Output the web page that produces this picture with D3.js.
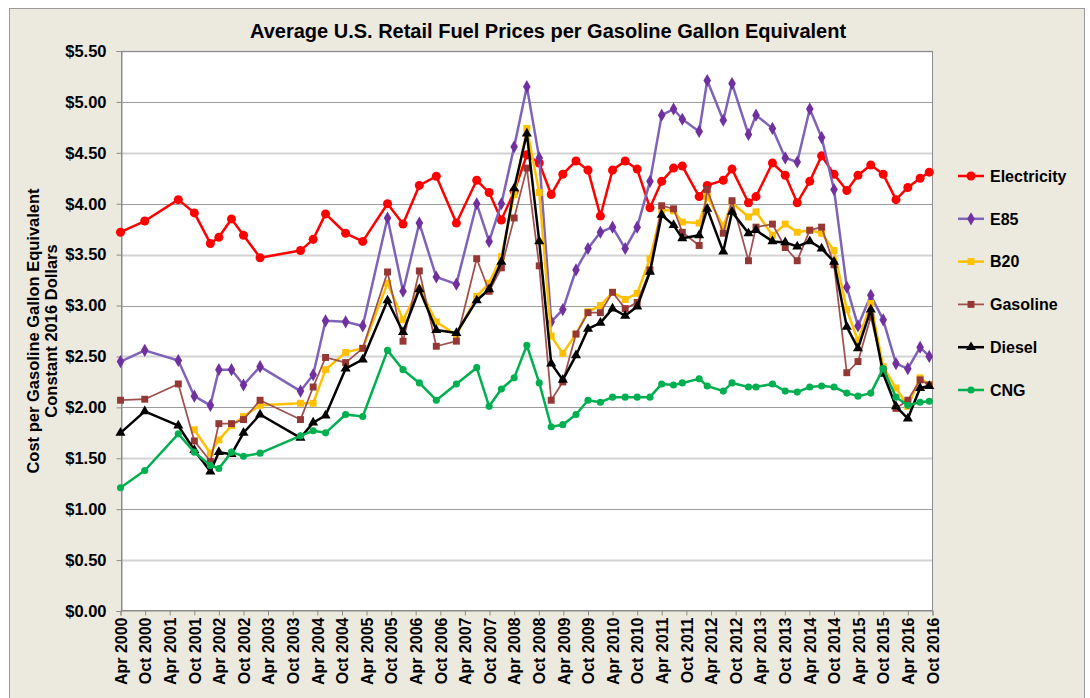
<!DOCTYPE html>
<html>
<head>
<meta charset="utf-8">
<script src="https://cdn.jsdelivr.net/npm/d3@7/dist/d3.min.js"></script>
<style>
  body { margin: 0; background: #ffffff; }
  text { font-family: 'Liberation Sans', Arial, sans-serif; font-weight: bold; }
</style>
</head>
<body>
<script>
var width = 1090;
var height = 698;

// Survey dates (one point per report).
var dates = ['2000-04-01','2000-09-28','2001-06-04','2001-10-01','2002-01-28','2002-04-01','2002-07-04','2002-10-01','2003-02-01','2003-11-28',
  '2004-03-01','2004-06-01','2004-10-28','2005-03-04','2005-09-04','2005-12-28','2006-04-28','2006-09-01','2007-01-28','2007-06-28',
  '2007-09-28','2007-12-28','2008-04-01','2008-07-04','2008-10-04','2009-01-01','2009-03-28','2009-07-04','2009-10-01','2010-01-01',
  '2010-04-01','2010-07-04','2010-10-01','2011-01-04','2011-04-01','2011-06-28','2011-09-01','2012-01-04','2012-03-04','2012-07-01',
  '2012-09-04','2013-01-04','2013-03-01','2013-07-01','2013-10-04','2014-01-01','2014-04-04','2014-07-01','2014-10-01','2015-01-04',
  '2015-03-28','2015-07-01','2015-10-01','2016-01-04','2016-04-01','2016-07-01','2016-09-07'];

// Prices, $ per gasoline gallon equivalent (constant 2016 dollars).
var electricity = [3.72,3.83,4.04,3.91,3.61,3.67,3.85,3.69,3.47,3.54, 3.65,3.90,3.71,3.63,4.00,3.80,4.18,4.27,3.81,4.23,
  4.11,3.84,4.12,4.48,4.40,4.09,4.29,4.42,4.33,3.88, 4.33,4.42,4.34,3.96,4.22,4.35,4.37,4.07,4.18,4.23,
  4.34,4.01,4.07,4.40,4.28,4.01,4.22,4.47,4.29,4.13, 4.28,4.38,4.29,4.04,4.16,4.25,4.31];
var e85 = [2.45,2.56,2.46,2.11,2.02,2.37,2.37,2.22,2.40,2.16, 2.32,2.85,2.84,2.80,3.86,3.14,3.81,3.28,3.21,4.00,
  3.63,4.00,4.56,5.15,4.45,2.84,2.96,3.35,3.56,3.72, 3.77,3.56,3.77,4.22,4.87,4.93,4.83,4.71,5.21,4.82,
  5.18,4.68,4.87,4.74,4.45,4.41,4.93,4.65,4.14,3.18, 2.80,3.10,2.86,2.43,2.38,2.59,2.50];
var b20 = [null,null,null,1.78,1.55,1.68,1.82,1.91,2.02,2.04, 2.04,2.37,2.54,2.58,3.22,2.86,3.17,2.84,2.71,3.09,
  3.22,3.48,4.09,4.74,4.11,2.70,2.53,2.72,2.94,3.00, 3.13,3.06,3.12,3.46,3.94,3.93,3.82,3.81,4.07,3.78,
  4.01,3.87,3.92,3.69,3.80,3.72,3.74,3.71,3.54,2.96, 2.65,3.02,2.40,2.19,2.01,2.29,2.22];
var gasoline = [2.07,2.08,2.23,1.67,1.47,1.84,1.84,1.88,2.07,1.88, 2.20,2.49,2.44,2.58,3.33,2.65,3.34,2.60,2.65,3.46,
  3.14,3.37,3.86,4.35,3.39,2.07,2.25,2.72,2.93,2.93, 3.13,2.97,3.03,3.35,3.98,3.95,3.72,3.59,4.14,3.71,
  4.03,3.44,3.77,3.80,3.57,3.44,3.74,3.77,3.40,2.34, 2.45,2.89,2.37,1.99,2.07,2.27,2.22];
var diesel = [1.75,1.96,1.82,1.58,1.37,1.56,1.54,1.75,1.93,1.70, 1.85,1.92,2.38,2.47,3.05,2.74,3.16,2.76,2.73,3.05,
  3.16,3.43,4.15,4.69,3.63,2.43,2.27,2.51,2.77,2.83, 2.97,2.90,2.99,3.33,3.89,3.79,3.66,3.69,3.95,3.53,
  3.92,3.71,3.74,3.63,3.62,3.58,3.63,3.56,3.43,2.79, 2.58,2.96,2.33,2.01,1.89,2.19,2.21];
var cng = [1.21,1.38,1.74,1.56,1.43,1.40,1.56,1.52,1.55,1.72, 1.77,1.75,1.93,1.91,2.56,2.37,2.24,2.07,2.23,2.39,
  2.01,2.18,2.29,2.61,2.24,1.81,1.83,1.93,2.07,2.05, 2.10,2.10,2.10,2.10,2.23,2.22,2.24,2.28,2.21,2.16,
  2.24,2.20,2.20,2.23,2.16,2.15,2.20,2.21,2.20,2.14, 2.11,2.14,2.38,2.10,2.02,2.05,2.06];

var seriesNames = ['Electricity', 'E85', 'B20', 'Gasoline', 'Diesel', 'CNG'];
var yTicks = [0, 0.5, 1, 1.5, 2, 2.5, 3, 3.5, 4, 4.5, 5, 5.5];
var firstTick = '2000-04-01';
var tickCount = 34; // Apr 2000 .. Oct 2016, every 6 months

// Styles per series.
var styles = {
  'Electricity': {line: '#ff0000', fill: '#ff0000', symbol: d3.symbolCircle, size: 64, w: 2.5},
  'E85':         {line: '#7f63b8', fill: '#7030a0', symbol: d3.symbolDiamond, size: 50, w: 2.5},
  'B20':         {line: '#ffc000', fill: '#ffc000', symbol: d3.symbolSquare, size: 48, w: 2.5},
  'Gasoline':    {line: '#a0504d', fill: '#953735', symbol: d3.symbolSquare, size: 48, w: 1.75},
  'Diesel':      {line: '#000000', fill: '#000000', symbol: d3.symbolTriangle, size: 44, w: 2.5},
  'CNG':         {line: '#00b050', fill: '#00b050', symbol: d3.symbolCircle, size: 40, w: 2.5}
};

var parse = d3.timeParse('%Y-%m-%d');
var values = [electricity, e85, b20, gasoline, diesel, cng];
var series = seriesNames.map(function(name, i) {
  return {
    name: name,
    points: dates.map(function(d, j) { return {date: parse(d), value: values[i][j]}; })
      .filter(function(p) { return p.value !== null; })
  };
});

var plot = {left: 121, right: 933, top: 51, bottom: 611};

var xTicks = d3.range(tickCount).map(function(i) { return d3.timeMonth.offset(parse(firstTick), 6 * i); });

var x = d3.scaleTime()
  .domain([xTicks[0], xTicks[xTicks.length - 1]])
  .range([plot.left - 0.5, plot.right - 0.5]);
var y = d3.scaleLinear()
  .domain([0, 5.5])
  .range([plot.bottom, plot.top]);

var svg = d3.select('body')
  .append('svg')
  .attr('width', width)
  .attr('height', height);

// Chart frame.
svg.append('rect')
  .attr('x', 9.5).attr('y', 8.5)
  .attr('width', 1075).attr('height', 700)
  .attr('fill', '#ece9df')
  .attr('stroke', '#9a9a9a');

svg.append('rect')
  .attr('x', plot.left).attr('y', plot.top)
  .attr('width', plot.right - plot.left).attr('height', plot.bottom - plot.top)
  .attr('fill', '#ffffff');

// Gridlines: whole dollars darker, half dollars lighter.
svg.append('g')
  .selectAll('line')
  .data(yTicks.slice(1))
  .enter().append('line')
  .attr('x1', plot.left).attr('x2', plot.right)
  .attr('y1', function(d) { return Math.round(y(d)) + 0.5; })
  .attr('y2', function(d) { return Math.round(y(d)) + 0.5; })
  .attr('stroke', function(d) { return d % 1 === 0 ? '#9c9c9c' : '#d3d3d3'; })
  .attr('stroke-width', function(d) { return d % 1 === 0 ? 1 : 2; });

// Plot border.
svg.append('rect')
  .attr('x', plot.left + 0.5).attr('y', plot.top + 0.5)
  .attr('width', plot.right - plot.left - 1).attr('height', plot.bottom - plot.top - 1)
  .attr('fill', 'none')
  .attr('stroke', '#8c8c8c');

// Y axis.
var yAxis = svg.append('g')
  .attr('transform', 'translate(' + (plot.left + 0.5) + ',0)')
  .call(d3.axisLeft(y).tickValues(yTicks).tickSize(5).tickFormat(d3.format('$.2f')));
yAxis.select('.domain').attr('stroke', '#8c8c8c');
yAxis.selectAll('.tick line').attr('stroke', '#8c8c8c');
yAxis.selectAll('.tick text')
  .attr('x', -15)
  .attr('fill', '#000')
  .style('font-size', '16.5px')
  .style('font-family', "'Liberation Sans', Arial, sans-serif")
  .style('font-weight', 'bold');

// X axis: every six months from Apr 2000.
var xAxis = svg.append('g')
  .attr('transform', 'translate(0,' + (plot.bottom - 0.5) + ')')
  .call(d3.axisBottom(x).tickValues(xTicks).tickSize(5).tickFormat(d3.timeFormat('%b %Y')));
xAxis.select('.domain').attr('stroke', '#8c8c8c');
xAxis.selectAll('.tick line').attr('stroke', '#8c8c8c');
xAxis.selectAll('.tick text')
  .attr('transform', 'rotate(-90)')
  .attr('text-anchor', 'end')
  .attr('x', -7)
  .attr('y', 0)
  .attr('dy', '0.36em')
  .attr('fill', '#000')
  .style('font-size', '16px')
  .style('font-family', "'Liberation Sans', Arial, sans-serif")
  .style('font-weight', 'bold');

// Title.
svg.append('text')
  .attr('x', 548)
  .attr('y', 38)
  .attr('text-anchor', 'middle')
  .attr('font-size', 20)
  .text('Average U.S. Retail Fuel Prices per Gasoline Gallon Equivalent');

// Y axis title.
var yTitle = svg.append('text')
  .attr('transform', 'translate(39,331) rotate(-90)')
  .attr('text-anchor', 'middle')
  .attr('font-size', 16.5);
yTitle.append('tspan').attr('x', 0).attr('dy', 0).text('Cost per Gasoline Gallon Equivalent');
yTitle.append('tspan').attr('x', 0).attr('dy', 17.5).text('Constant 2016 Dollars');

// Lines and markers.
var line = d3.line()
  .x(function(d) { return x(d.date); })
  .y(function(d) { return y(d.value); });

var groups = svg.append('g')
  .selectAll('g')
  .data(series)
  .enter().append('g');

groups.append('path')
  .attr('d', function(d) { return line(d.points); })
  .attr('fill', 'none')
  .attr('stroke', function(d) { return styles[d.name].line; })
  .attr('stroke-width', function(d) { return styles[d.name].w; })
  .attr('stroke-linejoin', 'round');

groups.each(function(s) {
  var st = styles[s.name];
  d3.select(this).selectAll('path.marker')
    .data(s.points)
    .enter().append('path')
    .attr('class', 'marker')
    .attr('transform', function(d) { return 'translate(' + x(d.date) + ',' + y(d.value) + ')'; })
    .attr('d', d3.symbol().type(st.symbol).size(st.size))
    .attr('fill', st.fill);
});

// Legend.
var legend = svg.append('g')
  .selectAll('g')
  .data(seriesNames)
  .enter().append('g')
  .attr('transform', function(d, i) { return 'translate(958,' + (176 + i * 42.8) + ')'; });

legend.append('line')
  .attr('x1', 0).attr('x2', 26)
  .attr('stroke', function(d) { return styles[d].line; })
  .attr('stroke-width', function(d) { return styles[d].w; });
legend.append('path')
  .attr('transform', 'translate(13,0)')
  .attr('d', function(d) { return d3.symbol().type(styles[d].symbol).size(styles[d].size)(); })
  .attr('fill', function(d) { return styles[d].fill; });
legend.append('text')
  .attr('x', 32)
  .attr('dy', '0.36em')
  .attr('font-size', 16)
  .text(function(d) { return d; });
</script>
</body>
</html>
